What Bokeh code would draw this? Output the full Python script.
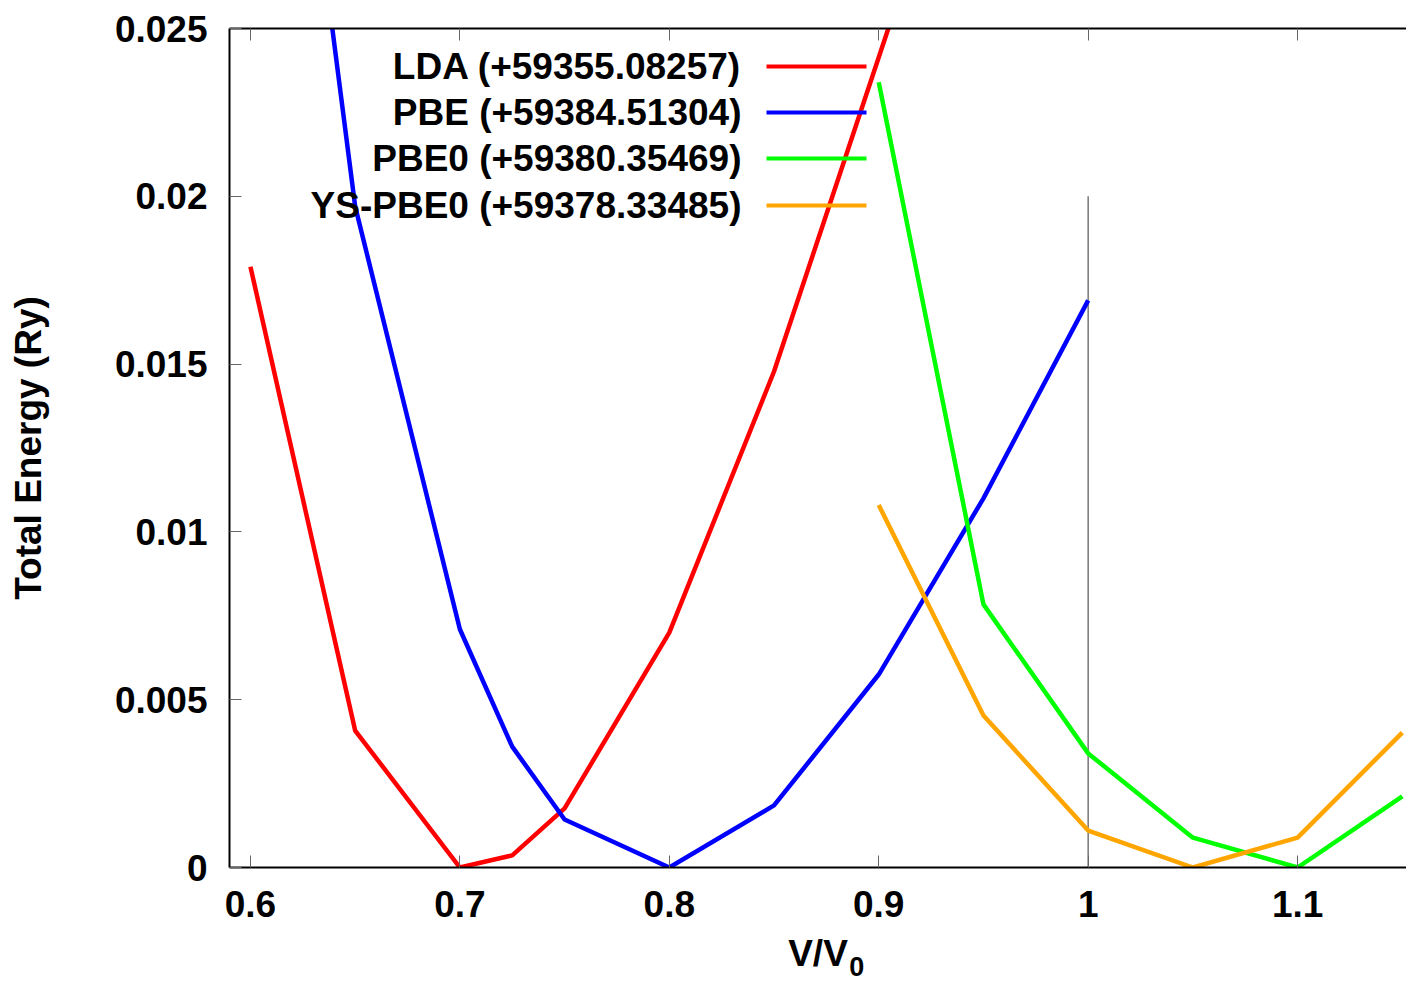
from bokeh.plotting import figure
from bokeh.models import LinearAxis, FixedTicker, Label, BoxAnnotation, Range1d, CustomLabelingPolicy
from bokeh.embed import file_html
from bokeh.resources import INLINE

# ---- data ----
x_lda = [0.6, 0.65, 0.7, 0.725, 0.75, 0.8, 0.85, 0.95]
y_lda = [0.0179, 0.00408, 0.0, 0.00036, 0.00176, 0.0070, 0.01478, 0.0335]

x_pbe = [0.6, 0.65, 0.7, 0.725, 0.75, 0.8, 0.85, 0.9, 0.95, 1.0]
y_pbe = [0.044, 0.0197, 0.0071, 0.0036, 0.00143, 0.0, 0.00185, 0.00575, 0.011, 0.0169]

x_pbe0 = [0.9, 0.95, 1.0, 1.05, 1.1, 1.15]
y_pbe0 = [0.0234, 0.00784, 0.0034, 0.00089, 0.0, 0.00212]

x_ys = [0.9, 0.95, 1.0, 1.05, 1.1, 1.15]
y_ys = [0.0108, 0.00453, 0.0011, 0.0, 0.00089, 0.00402]

series_names = ["LDA (+59355.08257)", "PBE (+59384.51304)",
                "PBE0 (+59380.35469)", "YS-PBE0 (+59378.33485)"]
series_colors = ["#ff0000", "#0000ff", "#00ff00", "#ffa500"]

x_ticks = [0.6, 0.7, 0.8, 0.9, 1.0, 1.1]
x_tick_labels = ["0.6", "0.7", "0.8", "0.9", "1", "1.1"]
y_ticks = [0.0, 0.005, 0.01, 0.015, 0.02, 0.025]
y_tick_labels = ["0", "0.005", "0.01", "0.015", "0.02", "0.025"]

vline_x = 1.0
vline_top = 0.02

x_title = "V/V"
x_title_sub = "0"
y_title = "Total Energy (Ry)"

FONT = "Liberation Sans"
FS = "37px"
SUB_POS = 0.8895   # horizontal place of the subscript under the axis

p = figure(width=1406, height=982, output_backend="svg", toolbar_location=None,
           x_range=Range1d(0.59, 1.152), y_range=Range1d(0.0, 0.025),
           min_border_left=229, min_border_right=0, min_border_top=28,
           min_border_bottom=115)
p.outline_line_color = None
p.grid.visible = False
p.background_fill_color = "white"
p.border_fill_color = "white"

def style_axis(ax):
    ax.axis_line_color = "black"
    ax.axis_line_width = 2
    ax.major_tick_in = 12
    ax.major_tick_out = 0
    ax.major_tick_line_color = "#666666"
    ax.major_tick_line_width = 1
    ax.minor_tick_line_color = None
    ax.major_label_text_font = FONT
    ax.major_label_text_font_size = FS
    ax.major_label_text_font_style = "bold"
    ax.major_label_text_color = "black"

xa = p.xaxis[0]
style_axis(xa)
xa.ticker = FixedTicker(ticks=x_ticks)
xa.major_label_overrides = dict(zip(x_ticks, x_tick_labels))
xa.major_label_standoff = 23
xa.axis_label = x_title
xa.axis_label_text_font = FONT
xa.axis_label_text_font_size = FS
xa.axis_label_text_font_style = "bold"
xa.axis_label_text_color = "black"
xa.axis_label_standoff = 13

# subscript "0" of the x title, drawn as a lone tick label of a bare axis
sub = LinearAxis(ticker=FixedTicker(ticks=[SUB_POS]),
                 major_label_overrides={SUB_POS: x_title_sub})
sub.axis_line_color = None
sub.major_tick_line_color = None
sub.minor_tick_line_color = None
sub.major_label_text_font = FONT
sub.major_label_text_font_size = "27px"
sub.major_label_text_font_style = "bold"
sub.major_label_text_color = "black"
sub.major_label_standoff = -26
p.add_layout(sub, "below")

ya = p.yaxis[0]
style_axis(ya)
ya.ticker = FixedTicker(ticks=y_ticks)
ya.major_label_overrides = dict(zip(y_ticks, y_tick_labels))
ya.major_label_standoff = 22
ya.axis_label = y_title
ya.axis_label_text_font = FONT
ya.axis_label_text_font_size = FS
ya.axis_label_text_font_style = "bold"
ya.axis_label_text_color = "black"
ya.axis_label_standoff = 63

# mirrored ticks on the top border, no labels
top = LinearAxis(ticker=FixedTicker(ticks=x_ticks))
style_axis(top)
top.major_label_text_font_size = "10px"
top.major_label_standoff = 0
top.major_label_policy = CustomLabelingPolicy(
    code="return new indices.constructor(indices.size, 0);")
p.add_layout(top, "above")

# vertical reference line
p.segment(x0=[vline_x], y0=[0.0], x1=[vline_x], y1=[vline_top],
          line_color="#777777", line_width=1.5)

for xs, ys, c in [(x_lda, y_lda, series_colors[0]), (x_pbe, y_pbe, series_colors[1]),
                  (x_pbe0, y_pbe0, series_colors[2]), (x_ys, y_ys, series_colors[3])]:
    p.line(xs, ys, line_color=c, line_width=4.5)

# gnuplot-style legend: text right-aligned, sample line on its right
row_y = [801, 755, 709, 662]
for name, c, yy in zip(series_names, series_colors, row_y):
    p.add_layout(Label(x=512, y=yy, x_units="screen", y_units="screen", text=name,
                       text_align="right", text_baseline="middle",
                       text_font=FONT, text_font_size=FS, text_font_style="bold",
                       text_color="black"))
    p.add_layout(BoxAnnotation(left=537, right=637, bottom=yy - 2, top=yy + 2,
                               left_units="screen", right_units="screen",
                               bottom_units="screen", top_units="screen",
                               fill_color=c, fill_alpha=1.0, line_color=None))

open("out.html", "w").write(file_html(p, INLINE))
